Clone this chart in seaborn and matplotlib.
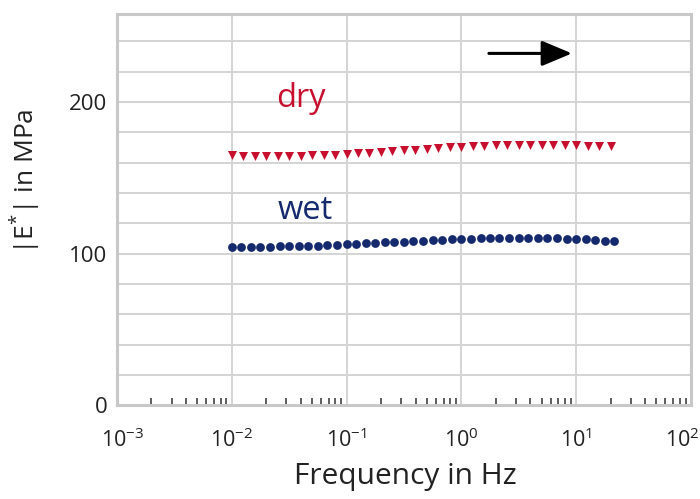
import numpy as np
import pandas as pd
import matplotlib
matplotlib.use("Agg")
import matplotlib.pyplot as plt
import matplotlib.ticker as mticker
import matplotlib.transforms as mtransforms
import seaborn as sns

dry_freq = [0.01, 0.0126, 0.0158, 0.02, 0.0251, 0.0316, 0.0398, 0.05, 0.0631, 0.0794,
            0.1, 0.126, 0.158, 0.2, 0.251, 0.316, 0.398, 0.5, 0.631, 0.794,
            1, 1.26, 1.58, 2, 2.51, 3.16, 3.98, 5, 6.31, 7.94,
            10, 12.6, 15.8, 20]
dry_E = [165, 164.5, 164.5, 164.3, 164.3, 164.5, 164.6, 164.8, 165, 165.3,
         165.7, 166.1, 166.6, 167.1, 167.6, 168.1, 168.6, 169.1, 169.6, 170,
         170.4, 170.8, 171.1, 171.4, 171.6, 171.8, 171.8, 171.8, 171.7, 171.5,
         171.3, 171.1, 170.9, 170.7]

wet_freq = [0.01, 0.0121, 0.0147, 0.0178, 0.0215, 0.0261, 0.0316, 0.0383, 0.0464, 0.0562,
            0.0681, 0.0825, 0.1, 0.121, 0.147, 0.178, 0.215, 0.261, 0.316, 0.383,
            0.464, 0.562, 0.681, 0.825, 1, 1.21, 1.47, 1.78, 2.15, 2.61,
            3.16, 3.83, 4.64, 5.62, 6.81, 8.25, 10, 12.1, 14.7, 17.8, 21.5]
wet_E = [104.5, 104.5, 104.5, 104.5, 104.6, 104.7, 104.8, 104.9, 105.1, 105.3,
         105.5, 105.8, 106.1, 106.4, 106.7, 107, 107.3, 107.6, 107.9, 108.2,
         108.5, 108.8, 109.1, 109.4, 109.7, 109.9, 110.1, 110.3, 110.4, 110.5,
         110.5, 110.5, 110.4, 110.3, 110.1, 109.9, 109.6, 109.3, 108.9, 108.5, 108.0]

y_ticks = [0, 100, 200]
x_label = "Frequency in Hz"
y_label = "|E$^{*}$| in MPa"

sns.set_theme(style="white")
plt.rcParams['font.family'] = ['Open Sans', 'DejaVu Sans']
plt.rcParams['mathtext.fontset'] = 'custom'
plt.rcParams['mathtext.rm'] = 'Open Sans'
plt.rcParams['mathtext.it'] = 'Open Sans'

dry_df = pd.DataFrame({"f": dry_freq, "E": dry_E})
wet_df = pd.DataFrame({"f": wet_freq, "E": wet_E})

fig = plt.figure(figsize=(7.0, 4.99), dpi=100)
ax = fig.add_axes([0.167, 0.188, 0.820, 0.784])

red = "#c8102e"
navy = "#152a6e"
sns.scatterplot(data=dry_df, x="f", y="E", marker="v", s=42, color=red,
                edgecolor=red, linewidth=0, ax=ax, zorder=3)
sns.scatterplot(data=wet_df, x="f", y="E", marker="o", s=40, color=navy,
                edgecolor=navy, linewidth=0, ax=ax, zorder=3)

ax.set_xscale("log")
ax.set_xlim(1e-3, 1e2)
ax.set_ylim(0, 258)
ax.set_yticks(y_ticks)
ax.yaxis.set_minor_locator(mticker.MultipleLocator(20))
ax.xaxis.set_major_locator(mticker.LogLocator(base=10, numticks=10))
ax.xaxis.set_minor_locator(mticker.LogLocator(base=10, subs=np.arange(2, 10), numticks=20))
ax.xaxis.set_minor_formatter(mticker.NullFormatter())

ax.grid(True, which="major", axis="x", color="#d4d4d4", linewidth=1.4)
ax.grid(True, which="both", axis="y", color="#d4d4d4", linewidth=1.4)
ax.set_axisbelow(True)

for sp in ax.spines.values():
    sp.set_color("#c8c8c8")
    sp.set_linewidth(2.2)

ax.tick_params(axis="x", which="major", length=0, pad=17, labelsize=15.5, colors="#222222")
ax.tick_params(axis="x", which="minor", direction="in", length=5, width=1.1,
               color="#333333", bottom=True)
ax.tick_params(axis="y", which="both", length=0, pad=7, labelsize=16, colors="#222222")

ax.set_xlabel(x_label, fontsize=21.5, color="#222222")
ax.xaxis.set_label_coords(0.502, -0.146)
ax.set_ylabel(y_label, fontsize=19, color="#222222")
ax.yaxis.set_label_coords(-0.129, 0.573)

ax.text(0.04, 202, "dry", color=red, fontsize=23.5, ha="center", va="center")
ax.text(0.0437, 128.5, "wet", color=navy, fontsize=23.5, ha="center", va="center")

ax.annotate("", xy=(9.2, 232), xytext=(1.74, 232),
            arrowprops=dict(arrowstyle="-|>,head_length=1.55,head_width=0.65",
                            color="black", lw=2.2, shrinkA=0, shrinkB=0))

fig.canvas.draw()
for lab in ax.get_xticklabels():
    txt = lab.get_text()
    if "-3" in txt or "−3" in txt:
        lab.set_transform(lab.get_transform() + mtransforms.ScaledTranslation(6 / 100, 0, fig.dpi_scale_trans))
    if "{2}" in txt:
        lab.set_transform(lab.get_transform() + mtransforms.ScaledTranslation(-9 / 100, 0, fig.dpi_scale_trans))

fig.savefig("out.png", dpi=100)
